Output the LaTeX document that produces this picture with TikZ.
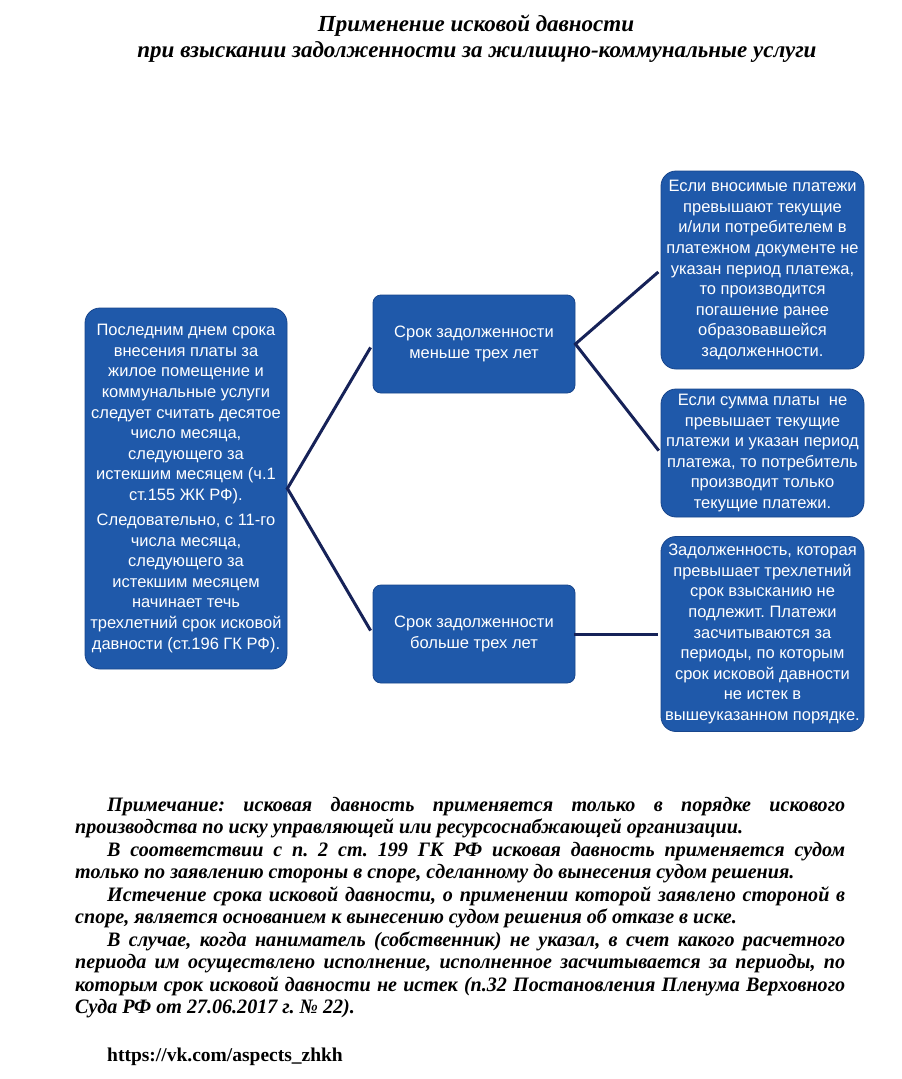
\documentclass[tikz,border=0pt]{standalone}
\usepackage{fontspec}
\setmainfont{Liberation Serif}
\newfontfamily\boxfont{Liberation Sans}
\newfontfamily\notefont[FakeStretch=0.98]{Liberation Serif}
\definecolor{boxblue}{RGB}{31,89,170}
\definecolor{boxedge}{RGB}{24,70,140}
\definecolor{linenavy}{RGB}{22,34,88}
\frenchspacing
\begin{document}
\begin{tikzpicture}[x=1pt,y=-1pt,
  bx/.style={fill=boxblue, draw=boxedge, line width=0.8pt, text=white, align=center, inner sep=0pt,
    font=\boxfont\fontsize{16.5}{20.6}\selectfont},
  conn/.style={draw=linenavy, line width=3pt},
  ttl/.style={anchor=base, inner sep=0pt, font=\rmfamily\bfseries\itshape\fontsize{23}{25}\selectfont},
  nline/.style={anchor=base west, inner sep=0pt, font=\notefont\bfseries\itshape\fontsize{20.5}{22.5}\selectfont\frenchspacing},
  url/.style={anchor=base west, inner sep=0pt, font=\rmfamily\bfseries\fontsize{19.5}{22}\selectfont}]
\useasboundingbox (0,0) rectangle (902,1079);
\fill[white] (0,0) rectangle (902,1079);

% title
\node[ttl] (t1) at (476,31) {Применение исковой давности};
\node[ttl] (t2) at (477,57) {при взыскании задолженности за жилищно-коммунальные услуги};

% boxes
\node[bx, rounded corners=15pt, minimum width=202pt, minimum height=361pt] (left) at (186,488.5)
 {Последним днем срока\\внесения платы за\\жилое помещение и\\коммунальные услуги\\следует считать десятое\\число месяца,\\следующего за\\истекшим месяцем (ч.1\\ст.155 ЖК РФ).\\[4.4pt]
  Следовательно, с 11-го\\числа месяца,\\следующего за\\истекшим месяцем\\начинает течь\\трехлетний срок исковой\\давности (ст.196 ГК РФ).};
\node[bx, rounded corners=8pt, minimum width=202pt, minimum height=98pt] (mtop) at (474,344)
 {Срок задолженности\\меньше трех лет};
\node[bx, rounded corners=8pt, minimum width=202pt, minimum height=98pt] (mbot) at (474,634)
 {Срок задолженности\\больше трех лет};
\node[bx, rounded corners=15pt, minimum width=203pt, minimum height=198pt] (rtop) at (762.5,270)
 {Если вносимые платежи\\превышают текущие\\и/или потребителем в\\платежном документе не\\указан период платежа,\\то производится\\погашение ранее\\образовавшейся\\задолженности.};
\node[bx, rounded corners=15pt, minimum width=203pt, minimum height=128pt] (rmid) at (762.5,453)
 {Если сумма платы\ \ не\\превышает текущие\\платежи и указан период\\платежа, то потребитель\\производит только\\текущие платежи.};
\node[bx, rounded corners=15pt, minimum width=203pt, minimum height=195pt] (rbot) at (762.5,634)
 {Задолженность, которая\\превышает трехлетний\\срок взысканию не\\подлежит. Платежи\\засчитываются за\\периоды, по которым\\срок исковой давности\\не истек в\\вышеуказанном порядке.};

% connectors
\draw[conn, shorten <=-1pt, shorten >=4pt] (left.east) -- (mtop.west);
\draw[conn, shorten <=-1pt, shorten >=4pt] (left.east) -- (mbot.west);
\draw[conn, shorten <=-1pt, shorten >=3pt] (mtop.east) -- (rtop.west);
\draw[conn, shorten <=-1pt, shorten >=3pt] (mtop.east) -- (rmid.west);
\draw[conn, shorten <=-1pt, shorten >=3pt] (mbot.east) -- (rbot.west);

% note
\node[nline] (n1) at (107,811) {\makebox[738pt][s]{Примечание: исковая давность применяется только в порядке искового}};
\node[nline] (n2) at (75,833.5) {производства по иску управляющей или ресурсоснабжающей организации.};
\node[nline] (n3) at (107,856) {\makebox[738pt][s]{В соответствии с п. 2 ст. 199 ГК РФ исковая давность применяется судом}};
\node[nline] (n4) at (75,878.5) {только по заявлению стороны в споре, сделанному до вынесения судом решения.};
\node[nline] (n5) at (107,901) {\makebox[738pt][s]{Истечение срока исковой давности, о применении которой заявлено стороной в}};
\node[nline] (n6) at (75,923.5) {споре, является основанием к вынесению судом решения об отказе в иске.};
\node[nline] (n7) at (107,946) {\makebox[738pt][s]{В случае, когда наниматель (собственник) не указал, в счет какого расчетного}};
\node[nline] (n8) at (75,968.5) {\makebox[770pt][s]{периода им осуществлено исполнение, исполненное засчитывается за периоды, по}};
\node[nline] (n9) at (75,991) {\makebox[770pt][s]{которым срок исковой давности не истек (п.32 Постановления Пленума Верховного}};
\node[nline] (n10) at (75,1013.5) {Суда РФ от 27.06.2017 г. № 22).};
\node[url] (u) at (107,1061) {https://vk.com/aspects\_zhkh};
\end{tikzpicture}
\end{document}
